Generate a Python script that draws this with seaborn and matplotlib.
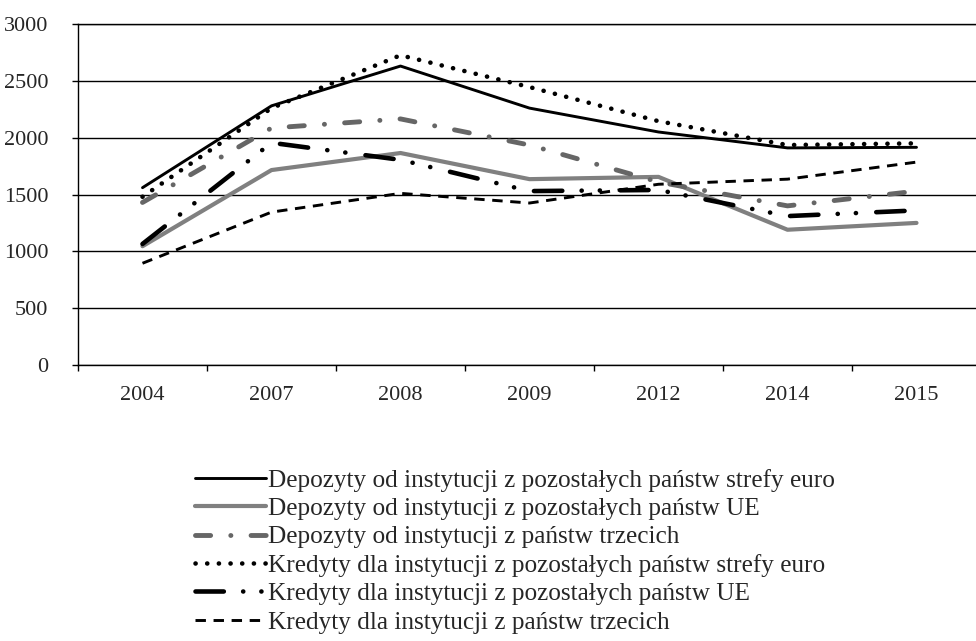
import numpy as np
import pandas as pd
import matplotlib
matplotlib.use("Agg")
import matplotlib.pyplot as plt
import seaborn as sns

# ==========================
# Data
# ==========================
years = ["2004", "2007", "2008", "2009", "2012", "2014", "2015"]

dep_euro = [1560, 2280, 2630, 2260, 2050, 1910, 1915]
dep_ue = [1045, 1715, 1865, 1635, 1655, 1190, 1250]
dep_trzecie = [1430, 2085, 2165, 1935, 1610, 1400, 1530]
kred_euro = [1480, 2260, 2725, 2445, 2145, 1935, 1950]
kred_ue = [1065, 1955, 1805, 1530, 1540, 1310, 1360]
kred_trzecie = [895, 1345, 1510, 1425, 1590, 1635, 1785]

labels = [
    "Depozyty od instytucji z pozostałych państw strefy euro",
    "Depozyty od instytucji z pozostałych państw UE",
    "Depozyty od instytucji z państw trzecich",
    "Kredyty dla instytucji z pozostałych państw strefy euro",
    "Kredyty dla instytucji z pozostałych państw UE",
    "Kredyty dla instytucji z państw trzecich",
]

sns.set_style("white")
plt.rcParams["font.family"] = ["Liberation Serif", "DejaVu Serif"]
plt.rcParams["lines.scale_dashes"] = False

fig = plt.figure(figsize=(9.76, 6.41), dpi=100)
ax = fig.add_axes([78 / 976, 1 - 365 / 641, 1 - 78 / 976, (365 - 24) / 641])

# ==========================
# Lines
# ==========================
styles = [
    dict(data=dep_euro, color="black", linewidth=2.1, linestyle="-"),
    dict(data=dep_ue, color="#808080", linewidth=3.0, linestyle="-"),
    dict(data=dep_trzecie, color="#666666", linewidth=3.5,
         linestyle=(0, (10.9, 14.5, 0.1, 14.5)), dash_capstyle="round"),
    dict(data=kred_euro, color="black", linewidth=3.3,
         linestyle=(0, (0.1, 8.3)), dash_capstyle="round"),
    dict(data=kred_ue, color="black", linewidth=3.3,
         linestyle=(0, (20.4, 13.9, 0.1, 13.0, 0.1, 14.6)), dash_capstyle="round"),
    dict(data=kred_trzecie, color="black", linewidth=2.1,
         linestyle=(0, (7.5, 5.5))),
]

for lab, st in zip(labels, styles):
    st = dict(st)
    values = st.pop("data")
    df = pd.DataFrame({"rok": years, "wartosc": values})
    sns.lineplot(data=df, x="rok", y="wartosc", ax=ax, label=lab,
                 sort=False, legend=False, **st)

# ==========================
# Axes styling
# ==========================
ax.set_xlim(-0.5, -0.5 + 898 / 129)
ax.set_ylim(0, 3000)
ax.set_yticks(np.arange(0, 3001, 500))
ax.set_xticks(np.arange(-0.5, 6.0, 1.0))
ax.set_xticklabels([])
ax.set_xticks(np.arange(len(years)), minor=True)
ax.set_xticklabels(years, minor=True)
ax.tick_params(axis="x", which="major", length=4.5, width=1, color="black",
               direction="out", bottom=True)
ax.tick_params(axis="x", which="minor", length=0, pad=15, labelsize=16)
ax.tick_params(axis="y", length=4.5, width=1, color="black", direction="out",
               left=True, pad=17, labelsize=16)
ax.yaxis.grid(True, color="black", linewidth=1.0)
ax.set_axisbelow(True)
ax.set_xlabel("")
ax.set_ylabel("")
for side in ["left", "bottom", "top"]:
    ax.spines[side].set_color("black")
    ax.spines[side].set_linewidth(1.0)
ax.spines["right"].set_visible(False)

# ==========================
# Legend
# ==========================
handles, leg_labels = ax.get_legend_handles_labels()
fig.legend(handles, leg_labels, loc="upper left",
           bbox_to_anchor=(195 / 976, 1 - 469 / 641),
           frameon=False, fontsize=18.2, handlelength=2.8,
           handletextpad=0.1, labelspacing=0.22,
           borderpad=0, borderaxespad=0)

fig.savefig("out.png", dpi=100)
